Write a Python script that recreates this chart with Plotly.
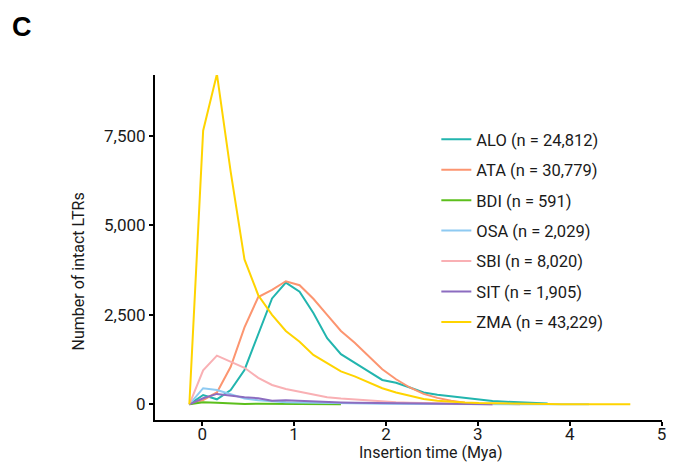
import plotly.graph_objects as go

# insertion-time bins (Mya)
x_bins = [-0.14, 0.01, 0.16, 0.31, 0.46, 0.61, 0.76, 0.91, 1.06, 1.21, 1.36, 1.51,
          1.66, 1.81, 1.96, 2.11, 2.26, 2.41, 2.56, 2.71, 2.86, 3.01, 3.16, 3.31,
          3.46, 3.61, 3.76, 3.91, 4.06, 4.21, 4.36, 4.51, 4.66]

ALO = [0, 260, 140, 400, 960, 1985, 2960, 3400, 3150, 2550, 1850, 1400,
       1150, 920, 680, 600, 470, 330, 270, 220, 170, 120, 90, 70, 50, 40, 20]
ATA = [0, 120, 330, 1050, 2150, 3000, 3200, 3440, 3330, 2950, 2500, 2050,
       1720, 1350, 980, 700, 470, 290, 180, 100, 45, 20, 10, 5, 0]
BDI = [0, 60, 40, 20, 10, 15, 10, 10, 5, 5, 3, 2]
OSA = [0, 450, 400, 280, 160, 110, 80, 60, 50, 40, 35, 30, 25, 20, 15, 12, 10,
       8, 6, 5, 4, 3, 3, 2, 2, 2, 1, 1, 1, 1]
SBI = [0, 950, 1360, 1190, 1020, 740, 540, 430, 350, 270, 200, 160, 130, 100,
       75, 55, 40, 30, 20, 10, 5, 0, 0]
SIT = [0, 170, 290, 240, 200, 170, 100, 110, 90, 70, 60, 50, 40, 35, 30, 25,
       20, 15, 10, 8, 5, 3, 2]
ZMA = [0, 7650, 9230, 6500, 4050, 3050, 2500, 2050, 1750, 1380, 1150, 920,
       780, 620, 450, 330, 230, 150, 100, 70, 50, 35, 25, 15, 10, 8, 5, 3, 2,
       1, 0, 0, 0]

series_names = ["ALO (n = 24,812)", "ATA (n = 30,779)", "BDI (n = 591)",
                "OSA (n = 2,029)", "SBI (n = 8,020)", "SIT (n = 1,905)",
                "ZMA (n = 43,229)"]
series_values = [ALO, ATA, BDI, OSA, SBI, SIT, ZMA]
colors = ["#22b5ae", "#fc9570", "#5cbf1c", "#8ecaf2", "#f9b0b4", "#8c6cc0", "#ffd400"]

x_ticks = [0, 1, 2, 3, 4, 5]
y_ticks = [0, 2500, 5000, 7500]
y_ticklabels = ["0", "2,500", "5,000", "7,500"]

fig = go.Figure()
for i, (name, vals, col) in enumerate(zip(series_names, series_values, colors)):
    fig.add_trace(go.Scatter(
        x=x_bins[:len(vals)], y=vals, mode="lines", name=name,
        line=dict(color=col, width=2),
        legendgroup=f"g{i}",
    ))

FONT = "Roboto"
W, H = 678, 462
l, r, t, b = 155, 13, 75, 42
pw, ph = W - l - r, H - t - b


def px2paper(px, py):
    return (px - l) / pw, 1 - (py - t) / ph


cx, cy = px2paper(9, 10)
yx, yy = px2paper(78, 271)
xx, xy = px2paper(433, 453)
lx, ly = px2paper(438, 122)

fig.update_layout(
    width=W, height=H,
    margin=dict(l=l, r=r, t=t, b=b),
    paper_bgcolor="white", plot_bgcolor="white",
    font=dict(family=FONT, size=16, color="#1a1a1a"),
    showlegend=True,
    legend=dict(x=lx, y=ly, xanchor="left", yanchor="top",
                font=dict(family=FONT, size=16.5, color="#1a1a1a"),
                tracegroupgap=6, itemwidth=30, bgcolor="rgba(0,0,0,0)"),
    xaxis=dict(range=[-0.514, 5.005], tickvals=x_ticks, ticks="outside",
               ticklen=4, tickwidth=1.5, tickcolor="black",
               showline=True, linecolor="black", linewidth=2,
               showgrid=False, zeroline=False, ticklabelstandoff=-6,
               tickfont=dict(family=FONT, size=17, color="#1a1a1a")),
    yaxis=dict(range=[-439, 9206], tickvals=y_ticks, ticktext=y_ticklabels,
               ticks="outside", ticklen=4, tickwidth=1.5, tickcolor="black",
               showline=True, linecolor="black", linewidth=2,
               showgrid=False, zeroline=False,
               tickfont=dict(family=FONT, size=17, color="#1a1a1a")),
    annotations=[
        dict(text="<b>C</b>", x=cx, y=cy, xref="paper", yref="paper",
             xanchor="left", yanchor="top", showarrow=False,
             font=dict(family="Liberation Sans", size=27, color="black")),
        dict(text="Number of intact LTRs", x=yx, y=yy,
             xref="paper", yref="paper", textangle=-90, showarrow=False,
             xanchor="center", yanchor="middle",
             font=dict(family=FONT, size=16, color="#1a1a1a")),
        dict(text="Insertion time (Mya)", x=xx, y=xy,
             xref="paper", yref="paper", showarrow=False,
             xanchor="center", yanchor="middle",
             font=dict(family=FONT, size=16, color="#1a1a1a")),
    ],
)

fig.write_html("out.html")
